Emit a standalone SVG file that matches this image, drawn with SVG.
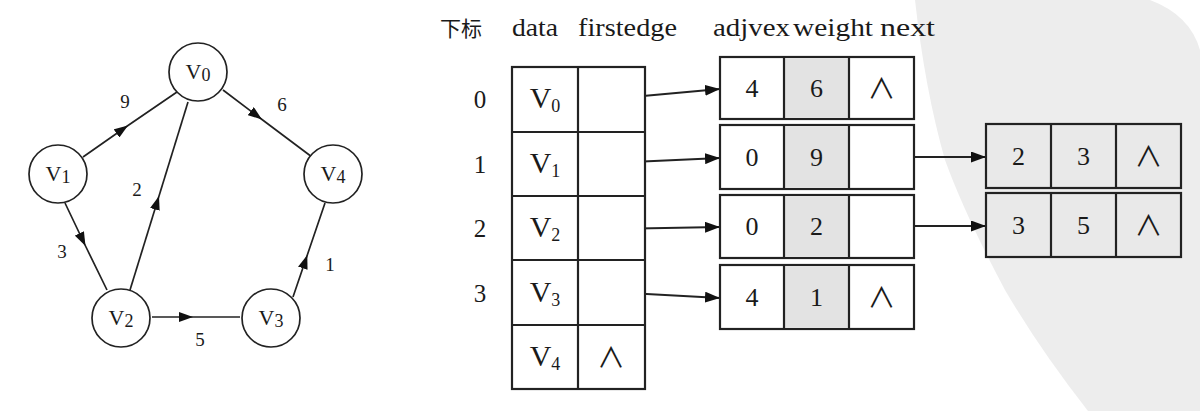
<svg xmlns="http://www.w3.org/2000/svg" width="1200" height="411" viewBox="0 0 1200 411">
<style>
text{font-family:"Liberation Serif","DejaVu Serif",serif;fill:#1a1a1a}
.cjk{font-family:"Liberation Serif","Noto Sans CJK SC",sans-serif;font-size:21px}
.hd{font-size:26px}
.idx{font-size:25px;text-anchor:middle}
.vl{font-size:30px;text-anchor:middle}
.num{font-size:26px;text-anchor:middle}
.nil{font-family:"Noto Sans CJK SC","DejaVu Sans",sans-serif;font-size:28px;text-anchor:middle}
.gv{font-size:22px;text-anchor:middle}
.gl{font-size:19px;text-anchor:middle}
.cell{fill:#fff;stroke:#222;stroke-width:2.2}
.shade{fill:#e3e3e3;stroke:none}
.gcell{fill:#e9e9e9;stroke:#222;stroke-width:2.2}
.div{stroke:#222;stroke-width:2.2}
.circ{fill:#fff;stroke:#222;stroke-width:1.7}
.edge{fill:none;stroke:#222;stroke-width:1.7;marker-mid:url(#mid)}
.ptr{fill:none;stroke:#222;stroke-width:1.8;marker-end:url(#tip)}
</style>
<defs>
<marker id="mid" viewBox="0 0 14 10" refX="14" refY="5" markerWidth="14" markerHeight="10" markerUnits="userSpaceOnUse" orient="auto"><path d="M0,0 L14,5 L0,10 Z" fill="#111"/></marker>
<marker id="tip" viewBox="0 0 15 11" refX="15" refY="5.5" markerWidth="15" markerHeight="11" markerUnits="userSpaceOnUse" orient="auto"><path d="M0,0 L15,5.5 L0,11 Z" fill="#111"/></marker>
</defs>
<rect width="1200" height="411" fill="#fff"/>
<path d="M915,0 L1150,0 Q1190,15 1200,50 L1200,411 L1088,411 Q1040,350 1005,290 Q965,215 945,160 Q925,90 915,0 Z" fill="#ededed"/>

<g id="connectors">
<path class="edge" d="M83,157 L128,125.5 L177,92"/>
<path class="edge" d="M223,90 L262,119.5 L312,157"/>
<path class="edge" d="M130,290 L159,196 L188,102"/>
<path class="edge" d="M65,203 L85.5,246 L107,290"/>
<path class="edge" d="M152,317 L193,317 L240,317"/>
<path class="edge" d="M293,297 L307.3,255 L325,203"/>
<line class="ptr" x1="610" y1="99" x2="720" y2="89"/>
<line class="ptr" x1="610" y1="163" x2="720" y2="158"/>
<line class="ptr" x1="610" y1="229" x2="720" y2="227"/>
<line class="ptr" x1="610" y1="292" x2="720" y2="298"/>
<line class="ptr" x1="882" y1="157" x2="986" y2="157"/>
<line class="ptr" x1="882" y1="226" x2="986" y2="226"/>
</g>

<g id="edge-labels">
<text class="gl" x="125" y="108">9</text>
<text class="gl" x="282" y="111">6</text>
<text class="gl" x="137" y="196">2</text>
<text class="gl" x="62" y="258">3</text>
<text class="gl" x="200" y="346">5</text>
<text class="gl" x="330" y="271">1</text>
</g>

<g id="v0"><circle class="circ" cx="198" cy="72" r="29"/><text class="gv" x="198" y="79">V<tspan font-size="18" dy="2">0</tspan></text></g>
<g id="v1"><circle class="circ" cx="58" cy="174" r="29"/><text class="gv" x="58" y="181">V<tspan font-size="18" dy="2">1</tspan></text></g>
<g id="v4"><circle class="circ" cx="333" cy="174" r="29"/><text class="gv" x="333" y="181">V<tspan font-size="18" dy="2">4</tspan></text></g>
<g id="v2"><circle class="circ" cx="121" cy="318" r="29"/><text class="gv" x="121" y="325">V<tspan font-size="18" dy="2">2</tspan></text></g>
<g id="v3"><circle class="circ" cx="271" cy="318" r="29"/><text class="gv" x="271" y="325">V<tspan font-size="18" dy="2">3</tspan></text></g>

<g id="header">
<text class="cjk" x="440" y="36">下标</text>
<text class="hd" x="512" y="36" textLength="46" lengthAdjust="spacingAndGlyphs">data</text>
<text class="hd" x="578" y="36" textLength="99" lengthAdjust="spacingAndGlyphs">firstedge</text>
<text class="hd" x="713" y="36" textLength="77" lengthAdjust="spacingAndGlyphs">adjvex</text>
<text class="hd" x="793" y="36" textLength="80" lengthAdjust="spacingAndGlyphs">weight</text>
<text class="hd" x="880" y="36" textLength="55" lengthAdjust="spacingAndGlyphs">next</text>
</g>

<g id="vertex-table">
<rect class="cell" x="512" y="67" width="133" height="322"/>
<line class="div" x1="578" y1="67" x2="578" y2="389"/>
<line class="div" x1="512" y1="132" x2="645" y2="132"/>
<line class="div" x1="512" y1="196" x2="645" y2="196"/>
<line class="div" x1="512" y1="260" x2="645" y2="260"/>
<line class="div" x1="512" y1="325" x2="645" y2="325"/>
</g>
<g id="row0"><text class="idx" x="480" y="108">0</text><text class="vl" x="545" y="108">V<tspan font-size="18" dy="4">0</tspan></text></g>
<g id="row1"><text class="idx" x="480" y="173">1</text><text class="vl" x="545" y="173">V<tspan font-size="18" dy="4">1</tspan></text></g>
<g id="row2"><text class="idx" x="480" y="237">2</text><text class="vl" x="545" y="237">V<tspan font-size="18" dy="4">2</tspan></text></g>
<g id="row3"><text class="idx" x="480" y="302">3</text><text class="vl" x="545" y="302">V<tspan font-size="18" dy="4">3</tspan></text></g>
<g id="row4"><text class="vl" x="545" y="366">V<tspan font-size="18" dy="4">4</tspan></text><text class="nil" x="611" y="368">∧</text></g>

<g id="e0">
<rect class="cell" x="720" y="57" width="194" height="62"/><rect class="shade" x="785" y="58" width="63" height="60"/>
<line class="div" x1="784" y1="57" x2="784" y2="119"/><line class="div" x1="849" y1="57" x2="849" y2="119"/>
<text class="num" x="752" y="97">4</text><text class="num" x="816.5" y="97">6</text><text class="nil" x="881.5" y="99">∧</text>
</g>
<g id="e1">
<rect class="cell" x="720" y="125" width="194" height="64"/><rect class="shade" x="785" y="126" width="63" height="62"/>
<line class="div" x1="784" y1="125" x2="784" y2="189"/><line class="div" x1="849" y1="125" x2="849" y2="189"/>
<text class="num" x="752" y="166">0</text><text class="num" x="816.5" y="166">9</text>
</g>
<g id="e2">
<rect class="cell" x="720" y="195" width="194" height="63"/><rect class="shade" x="785" y="196" width="63" height="61"/>
<line class="div" x1="784" y1="195" x2="784" y2="258"/><line class="div" x1="849" y1="195" x2="849" y2="258"/>
<text class="num" x="752" y="235">0</text><text class="num" x="816.5" y="235">2</text>
</g>
<g id="e3">
<rect class="cell" x="720" y="265" width="194" height="64"/><rect class="shade" x="785" y="266" width="63" height="62"/>
<line class="div" x1="784" y1="265" x2="784" y2="329"/><line class="div" x1="849" y1="265" x2="849" y2="329"/>
<text class="num" x="752" y="306">4</text><text class="num" x="816.5" y="306">1</text><text class="nil" x="881.5" y="308">∧</text>
</g>
<g id="e4">
<rect class="gcell" x="986" y="124" width="195" height="64"/>
<line class="div" x1="1051" y1="124" x2="1051" y2="188"/><line class="div" x1="1116" y1="124" x2="1116" y2="188"/>
<text class="num" x="1018.5" y="165">2</text><text class="num" x="1083.5" y="165">3</text><text class="nil" x="1148.5" y="167">∧</text>
</g>
<g id="e5">
<rect class="gcell" x="986" y="193" width="195" height="64"/>
<line class="div" x1="1051" y1="193" x2="1051" y2="257"/><line class="div" x1="1116" y1="193" x2="1116" y2="257"/>
<text class="num" x="1018.5" y="234">3</text><text class="num" x="1083.5" y="234">5</text><text class="nil" x="1148.5" y="236">∧</text>
</g>
</svg>
